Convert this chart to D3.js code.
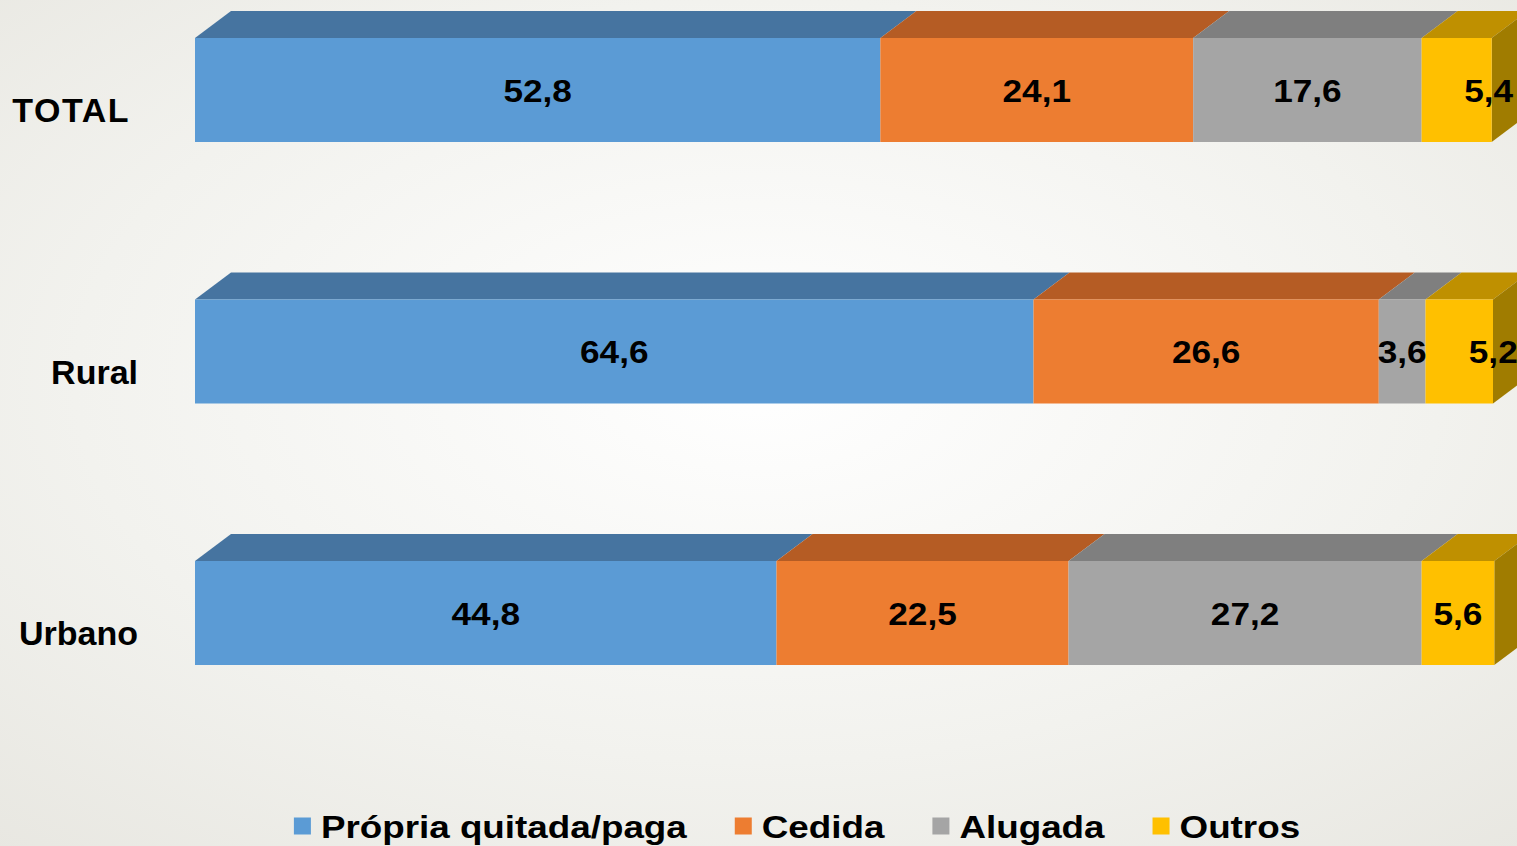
<!DOCTYPE html>
<html><head><meta charset="utf-8">
<script src="https://cdn.jsdelivr.net/npm/d3@7"></script>
<style>html,body{margin:0;padding:0;overflow:hidden;background:#eeede8}</style>
</head><body>
<svg id="chart" width="1517" height="846"></svg>
<script>
const categories = ["TOTAL", "Rural", "Urbano"];
const seriesNames = ["Própria quitada/paga", "Cedida", "Alugada", "Outros"];
const propria = [52.8, 64.6, 44.8];
const cedida = [24.1, 26.6, 22.5];
const alugada = [17.6, 3.6, 27.2];
const outros = [5.4, 5.2, 5.6];
const seriesValues = [propria, cedida, alugada, outros];

const frontColors = ["#5B9BD5", "#ED7D31", "#A5A5A5", "#FFC000"];
const topColors = ["#4674A0", "#B55C24", "#7F7F7F", "#BF9000"];
const sideColors = ["#3B6590", "#9E4F1F", "#6E6E6E", "#A07C00"];

const svg = d3.select("#chart");
const W = 1517, H = 846;
const defs = svg.append("defs");
const rg = defs.append("radialGradient").attr("id", "bg")
  .attr("cx", "50%").attr("cy", "45%").attr("r", "75%");
rg.append("stop").attr("offset", "0%").attr("stop-color", "#ffffff");
rg.append("stop").attr("offset", "60%").attr("stop-color", "#f2f2ee");
rg.append("stop").attr("offset", "100%").attr("stop-color", "#e8e7e1");
svg.append("rect").attr("width", W).attr("height", H).attr("fill", "url(#bg)");

const x = d3.scaleLinear().domain([0, 100]).range([195, 1493]);
const y = d3.scalePoint().domain(categories).range([90, 613]);
const barH = 104, dx = 36, dy = 27;

const fmt = v => d3.format(".1f")(v).replace(".", ",");
const labelShift = {"TOTAL|Outros": 32, "Rural|Outros": 34};

categories.forEach((cat, ci) => {
  const g = svg.append("g");
  const yc = y(cat), y0 = yc - barH / 2;
  let cum = 0;
  const segs = seriesValues.map((arr, si) => {
    const s = {si, v: arr[ci], a: cum, b: cum + arr[ci]};
    cum += arr[ci];
    return s;
  });
  segs.forEach(s => {
    const xa = x(s.a), xb = x(s.b);
    g.append("path")
      .attr("d", `M${xa},${y0} L${xa + dx},${y0 - dy} L${xb + dx},${y0 - dy} L${xb},${y0} Z`)
      .attr("fill", topColors[s.si]);
  });
  const last = segs[segs.length - 1];
  const xe = x(last.b);
  g.append("path")
    .attr("d", `M${xe},${y0} L${xe + dx},${y0 - dy} L${xe + dx},${y0 + barH - dy} L${xe},${y0 + barH} Z`)
    .attr("fill", sideColors[last.si]);
  segs.forEach(s => {
    g.append("rect")
      .attr("x", x(s.a)).attr("y", y0)
      .attr("width", x(s.b) - x(s.a)).attr("height", barH)
      .attr("fill", frontColors[s.si]);
  });
  segs.forEach(s => {
    const cx = (x(s.a) + x(s.b)) / 2 + (labelShift[cat + "|" + seriesNames[s.si]] || 0);
    g.append("g").attr("transform", `translate(${cx},${yc}) scale(1.1,1)`)
      .append("text")
      .attr("text-anchor", "middle").attr("dy", "0.36em")
      .attr("font-family", "Liberation Sans, Arial, sans-serif")
      .attr("font-weight", "bold").attr("font-size", 32)
      .attr("fill", "#000")
      .text(fmt(s.v));
  });
  svg.append("text")
    .attr("x", cat === "TOTAL" ? 130 : 138).attr("y", yc + 20)
    .attr("text-anchor", "end").attr("dy", "0.36em")
    .attr("font-family", "Liberation Sans, Arial, sans-serif")
    .attr("font-weight", "bold").attr("font-size", 34)
    .attr("letter-spacing", cat === "TOTAL" ? 1.5 : 0)
    .attr("fill", "#000")
    .text(cat);
});

const leg = svg.append("g");
const sq = 17, gapSq = 10, gapItem = 48, sx = 1.15, legY = 826;
const items = [];
let lx = 0;
seriesNames.forEach((name, i) => {
  const it = leg.append("g");
  it.append("rect").attr("x", 0).attr("y", -sq / 2).attr("width", sq).attr("height", sq)
    .attr("fill", frontColors[i]);
  const tg = it.append("g").attr("transform", `translate(${sq + gapSq},0) scale(${sx},1)`);
  const t = tg.append("text").attr("dy", "0.36em")
    .attr("font-family", "Liberation Sans, Arial, sans-serif")
    .attr("font-weight", "bold").attr("font-size", 32).attr("fill", "#000")
    .text(name);
  const w = sq + gapSq + t.node().getComputedTextLength() * sx;
  items.push({it, x: lx});
  lx += w + gapItem;
});
const totalW = lx - gapItem;
const startX = 797 - totalW / 2;
items.forEach(d => d.it.attr("transform", `translate(${startX + d.x},${legY})`));
</script>
</body></html>
